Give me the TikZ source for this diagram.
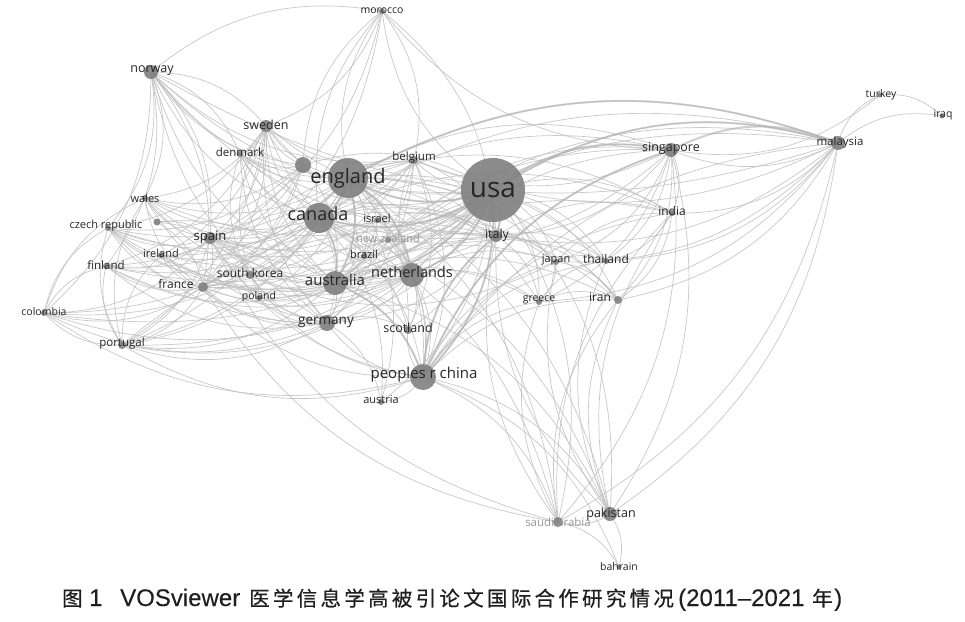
\documentclass[tikz,border=0pt]{standalone}
\usepackage{fontspec}
\setmainfont{Open Sans}
\newfontfamily\cjk[FakeBold=0.5]{Noto Sans CJK SC}
\newfontfamily\cjksp[FakeBold=0.5,LetterSpace=16]{Noto Sans CJK SC}
\newfontfamily\capl[FakeBold=0.15]{Liberation Sans}
\begin{document}
\begin{tikzpicture}[x=1pt,y=-1pt,
  edge/.style={draw=black!25, line width=0.7pt, opacity=0.85},
  bigedge/.style={draw=black!30, line width=2pt, opacity=0.6},
  lab/.style={text=black!85, inner sep=0pt},
  fs/.style={font=\fontsize{#1}{#1}\selectfont},
  capc/.style={anchor=base west, inner sep=0pt, text=black!88, font=\cjk\fontsize{20.5}{20.5}\selectfont},
  capt/.style={anchor=base west, inner sep=0pt, text=black!88, font=\capl\fontsize{24}{24}\selectfont}]
\useasboundingbox (0,0) rectangle (965,621);
\fill[white] (0,0) rectangle (965,621);
% positions
\coordinate (usa) at (493,190);
\coordinate (eng) at (348,178);
\coordinate (engs) at (303,165);
\coordinate (can) at (319,218);
\coordinate (isr) at (377,220);
\coordinate (nz) at (388,240);
\coordinate (bra) at (364,256);
\coordinate (aus) at (335,283);
\coordinate (net) at (412,275);
\coordinate (ger) at (327,323);
\coordinate (sco) at (408,330);
\coordinate (chn) at (423,377);
\coordinate (aut) at (381,402);
\coordinate (bel) at (414,160);
\coordinate (ita) at (496,236);
\coordinate (jpn) at (556,262);
\coordinate (tha) at (606,261);
\coordinate (gre) at (539,302);
\coordinate (irn) at (618,300);
\coordinate (sgp) at (671,150);
\coordinate (ind) at (672,213);
\coordinate (mys) at (838,143);
\coordinate (tur) at (880,95);
\coordinate (irq) at (942,116);
\coordinate (pak) at (610,514);
\coordinate (sau) at (558,522);
\coordinate (bhr) at (619,567);
\coordinate (mar) at (382,11);
\coordinate (nor) at (151,72);
\coordinate (swe) at (266,126);
\coordinate (den) at (240,154);
\coordinate (wal) at (145,198);
\coordinate (cze) at (108,228);
\coordinate (czs) at (157,222);
\coordinate (spa) at (210,238);
\coordinate (ire) at (161,255);
\coordinate (fin) at (106,266);
\coordinate (fra) at (203,287);
\coordinate (kor) at (250,275);
\coordinate (pol) at (259,298);
\coordinate (col) at (44,313);
\coordinate (por) at (122,345);
% edges
\foreach \s/\ts in {
 usa/{eng,can,aus,net,ger,chn,ita,jpn,tha,gre,irn,sgp,ind,mys,pak,sau,bel,isr,nz,bra,swe,den,nor,spa,fra,kor,ire,fin,cze,wal,por,col,mar,aut,sco,pol},
 eng/{can,aus,net,ger,chn,sgp,mys,ita,sco,swe,nor,den,bel,spa,fra,wal,ire,fin,cze,por,col,mar,pak,sau,ind,jpn,irn,gre,tha,kor,pol,bra,isr,nz,aut},
 can/{aus,net,ger,chn,sgp,mys,ita,sco,swe,nor,den,spa,fra,wal,ire,fin,cze,por,col,pak,sau,ind,jpn,irn,kor,isr,bra,aut,mar},
 aus/{net,ger,chn,sgp,mys,ita,sco,swe,nor,den,spa,fra,wal,ire,fin,cze,por,pak,ind,jpn,tha,irn,gre,kor,pol,nz,bra},
 net/{ger,chn,sgp,ita,sco,swe,den,spa,fra,bel,ire,fin,cze,por,wal,col,jpn,gre},
 chn/{ger,sgp,mys,ita,pak,sau,ind,jpn,tha,irn,gre,sco,aut,spa,fra,kor,por,col,bhr},
 ger/{spa,fra,swe,den,nor,ire,fin,cze,por,col,wal,pol,kor,sco,aut},
 engs/{swe,den,nor,spa,fra,wal,cze,fin,por,mar,usa,aus},
 mys/{tur,irq,sgp,ind,pak,sau,irn,tha,jpn,gre,ita,nor,bel},
 sgp/{ind,pak,sau,irn,tha,jpn,gre,ita,nz,bel,mar},
 pak/{sau,bhr,irn,tha,ind,ita,jpn},
 sau/{bhr,irn,gre,ita,ind,spa,fra},
 nor/{swe,den,spa,fra,wal,fin,cze,col,mar},
 mar/{swe,spa,fra,bel,ita},
 swe/{den,spa,fra,fin,cze,wal,ire,por},
 spa/{fra,ire,fin,cze,wal,por,col,kor,pol,ita},
 fra/{ire,fin,cze,wal,por,col,kor,pol,bel,ita},
 por/{col,fin,cze,wal,ire,ita},
 col/{fin,cze,wal},
 tur/{sgp,irq},
 bel/{swe,den,nor,spa,fra,ita,ger,chn,aus,can,sco},
 isr/{can,aus,net,ger,ita,chn,spa,fra},
 nz/{aus,can,net,chn,sgp,mys},
 ita/{jpn,tha,gre,irn,ind,spa,ger,swe,nor,den},
 jpn/{tha,gre,irn,ind,kor},
 gre/{irn,tha},
 kor/{den,swe,cze,pol},
 ind/{irn,tha},
 czs/{wal,spa,fra,ger,aus}} {
  \foreach \t in \ts {
    \draw[edge] (\s) to[bend left=24] (\t);
  }
}
\foreach \s/\t in {usa/eng,usa/can,usa/chn,eng/can,eng/aus,usa/aus,sgp/mys,usa/mys,usa/sgp,eng/mys,can/aus,usa/net,eng/net,chn/sgp,usa/ita,chn/ita,aus/chn}
  \draw[bigedge] (\s) to[bend left=24] (\t);
% circles
\foreach \c/\r in {usa/32,eng/20,can/15,aus/12,net/12,chn/13,ger/8,engs/8,ita/6,sgp/7,mys/7,pak/7,nor/7,swe/6,spa/6,fra/5,sau/5,irn/4,
  isr/3,nz/3,bra/3,sco/4,aut/3,bel/4,jpn/3,tha/3,gre/3,ind/3,tur/2.5,irq/2.5,bhr/2.5,mar/3,den/3,wal/3,cze/3,czs/3.5,ire/3,fin/3,kor/4,pol/3,col/3,por/4}
  \fill[black!50, opacity=0.9] (\c) circle[radius=\r];
% labels
\node[lab,fs=28] (l-usa) at (493,190) {usa};
\node[lab,fs=20] (l-eng) at (348,178) {england};
\node[lab,fs=18] (l-can) at (318,214) {canada};
\node[lab,fs=11] (l-isr) at (377,218) {israel};
\node[lab,fs=11,text=black!40] (l-nz) at (388,238) {new zealand};
\node[lab,fs=11] (l-bra) at (364,254) {brazil};
\node[lab,fs=15] (l-aus) at (335,280) {australia};
\node[lab,fs=14.5] (l-net) at (412,272) {netherlands};
\node[lab,fs=13.5] (l-ger) at (326,322) {germany};
\node[lab,fs=12.5] (l-sco) at (408,328) {scotland};
\node[lab,fs=15] (l-chn) at (424,375) {peoples r china};
\node[lab,fs=11] (l-aut) at (381,400) {austria};
\node[lab,fs=11.5] (l-bel) at (414,158) {belgium};
\node[lab,fs=12.5] (l-ita) at (497,235) {italy};
\node[lab,fs=11] (l-jpn) at (556,260) {japan};
\node[lab,fs=12] (l-tha) at (606,259) {thailand};
\node[lab,fs=10.5] (l-gre) at (539,300) {greece};
\node[lab,fs=12] (l-irn) at (600,297) {iran};
\node[lab,fs=12.5] (l-sgp) at (671,148) {singapore};
\node[lab,fs=12] (l-ind) at (672,211) {india};
\node[lab,fs=11.5] (l-mys) at (840,143) {malaysia};
\node[lab,fs=10.5] (l-tur) at (881,95) {turkey};
\node[lab,fs=10.5] (l-irq) at (943,115) {iraq};
\node[lab,fs=12.5] (l-pak) at (611,514) {pakistan};
\node[lab,fs=11.5,text=black!40] (l-sau) at (558,522) {saudi arabia};
\node[lab,fs=10.5] (l-bhr) at (619,567) {bahrain};
\node[lab,fs=10.5] (l-mar) at (382,11) {morocco};
\node[lab,fs=12.5] (l-nor) at (152,71) {norway};
\node[lab,fs=12.5] (l-swe) at (266,125) {sweden};
\node[lab,fs=11.5] (l-den) at (240,152) {denmark};
\node[lab,fs=11] (l-wal) at (145,198) {wales};
\node[lab,fs=11] (l-cze) at (106,226) {czech republic};
\node[lab,fs=13] (l-spa) at (210,237) {spain};
\node[lab,fs=11] (l-ire) at (161,253) {ireland};
\node[lab,fs=11.5] (l-fin) at (106,265) {finland};
\node[lab,fs=12] (l-fra) at (176,284) {france};
\node[lab,fs=12] (l-kor) at (250,273) {south korea};
\node[lab,fs=10.5] (l-pol) at (259,297) {poland};
\node[lab,fs=10.5] (l-col) at (44,312) {colombia};
\node[lab,fs=11.5] (l-por) at (122,344) {portugal};
% caption
\node[capc] (cap1) at (62,606) {图};
\node[capt] (cap2) at (89,606) {1};
\node[capt] (cap3) at (120,606) {VOSviewer};
\node[capc, font=\cjksp\fontsize{20.5}{20.5}\selectfont] (cap4) at (249,606) {医学信息学高被引论文国际合作研究情况};
\node[capt] (cap5) at (678,606) {(2011–2021};
\node[capc] (cap6) at (812,606) {年};
\node[capt] (cap7) at (834,606) {)};
\end{tikzpicture}
\end{document}
